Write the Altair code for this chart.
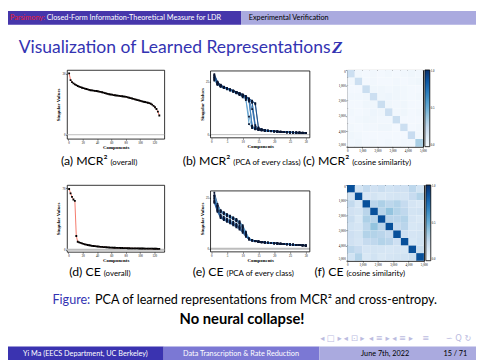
import altair as alt
import pandas as pd

# ---------------- slide text ----------------
HEADER_TEXT = ["Parsimony:", "Closed-Form Information-Theoretical Measure for LDR", "Experimental Verification"]
TITLE_TEXT = ["Visualization of Learned Representations", "Z"]
CAPTION_MAIN = ["(a) MCR²", "(b) MCR²", "(c) MCR²", "(d) CE", "(e) CE", "(f) CE"]
CAPTION_NOTE = ["(overall)", "(PCA of every class)", "(cosine similarity)",
                "(overall)", "(PCA of every class)", "(cosine similarity)"]
FIGURE_CAPTION = ["Figure:", "PCA of learned representations from MCR² and cross-entropy."]
TAKEAWAY = ["No neural collapse!"]
NAV_TEXT = ["◂ □ ▸", "◂ ⊡ ▸", "◂ ≡ ▸", "◂ ≡ ▸", "≡", "∽ Q ↻"]
FOOTER_TEXT = ["Yi Ma  (EECS Department, UC Berkeley)", "Data Transcription & Rate Reduction",
               "June 7th, 2022", "15 / 71"]
AXIS_TITLES = ["Components", "Singular Values"]

# ---------------- data ----------------
COMP_OVERALL = list(range(1, 128, 2))
MCR_OVERALL = [30.3, 27.0, 26.0, 25.4, 24.9, 24.5, 24.1, 23.8, 23.5, 23.2, 23.0, 22.8, 22.6, 22.4, 22.2, 22.0,
               21.9, 21.8, 21.7, 21.6, 21.5, 21.3, 21.2, 21.0, 20.8, 20.6, 20.4, 20.2, 20.0, 19.9, 19.8, 19.6,
               19.5, 19.4, 19.3, 19.2, 19.1, 19.0, 18.9, 18.8, 18.7, 18.5, 18.3, 18.1, 17.9, 17.7, 17.5, 17.3,
               17.1, 16.9, 16.7, 16.5, 16.3, 16.2, 16.0, 15.8, 15.6, 15.3, 14.9, 14.3, 13.6, 12.7, 11.4, 9.5]
CE_OVERALL = [69.0, 64.0, 60.0, 57.0, 55.5, 15.5, 9.0, 8.3, 7.7, 7.1, 6.6, 6.1, 5.7, 5.3, 5.0, 4.7,
              4.4, 4.2, 4.0, 3.8, 3.6, 3.4, 3.25, 3.1, 2.95, 2.8, 2.7, 2.6, 2.5, 2.4, 2.3, 2.2,
              2.15, 2.1, 2.0, 1.95, 1.9, 1.85, 1.8, 1.75, 1.7, 1.65, 1.6, 1.55, 1.5, 1.48, 1.45, 1.42,
              1.4, 1.37, 1.34, 1.31, 1.28, 1.25, 1.22, 1.2, 1.17, 1.14, 1.11, 1.08, 1.05, 1.02, 0.98, 0.94]

COMP_CLASS = list(range(1, 31))
MCR_CLASS = [
    [28.5, 25.0, 23.5, 22.6, 22.0, 21.4, 20.8, 20.2, 19.6, 19.0, 18.2, 17.0, 4.0, 2.8, 2.4, 2.1, 1.9, 1.7, 1.6, 1.5, 1.4, 1.3, 1.2, 1.1, 1.05, 1.0, 0.95, 0.9, 0.85, 0.8],
    [27.0, 24.2, 23.0, 22.3, 21.7, 21.1, 20.5, 19.9, 19.2, 18.4, 17.4, 16.2, 15.0, 3.6, 2.7, 2.3, 2.0, 1.8, 1.7, 1.55, 1.45, 1.35, 1.25, 1.15, 1.1, 1.0, 0.95, 0.9, 0.85, 0.8],
    [26.2, 23.8, 22.8, 22.1, 21.6, 21.0, 20.4, 19.7, 18.9, 17.9, 16.8, 5.0, 3.2, 2.6, 2.3, 2.0, 1.8, 1.7, 1.6, 1.5, 1.4, 1.3, 1.2, 1.1, 1.0, 0.95, 0.9, 0.85, 0.8, 0.75],
    [27.8, 24.6, 23.2, 22.4, 21.8, 21.2, 20.7, 20.1, 19.5, 18.8, 18.0, 17.1, 16.0, 14.2, 3.0, 2.5, 2.2, 1.9, 1.75, 1.6, 1.5, 1.4, 1.3, 1.2, 1.1, 1.05, 1.0, 0.95, 0.9, 0.85],
    [25.8, 23.6, 22.6, 22.0, 21.5, 20.9, 20.3, 19.8, 19.1, 18.3, 17.5, 16.5, 4.2, 2.9, 2.4, 2.1, 1.9, 1.75, 1.6, 1.5, 1.4, 1.3, 1.2, 1.1, 1.05, 1.0, 0.95, 0.9, 0.85, 0.8],
    [28.0, 24.8, 23.4, 22.5, 21.9, 21.3, 20.6, 19.9, 19.3, 18.6, 17.7, 16.6, 15.3, 4.5, 2.8, 2.4, 2.1, 1.9, 1.7, 1.6, 1.5, 1.4, 1.3, 1.2, 1.1, 1.0, 0.95, 0.9, 0.85, 0.8],
    [26.6, 24.0, 22.9, 22.2, 21.6, 21.0, 20.4, 19.8, 19.0, 18.1, 17.0, 15.6, 3.8, 2.7, 2.3, 2.05, 1.85, 1.7, 1.6, 1.5, 1.4, 1.3, 1.2, 1.1, 1.05, 1.0, 0.95, 0.9, 0.85, 0.8],
    [27.4, 24.4, 23.1, 22.3, 21.7, 21.1, 20.6, 20.0, 19.4, 18.7, 17.9, 16.9, 15.8, 14.8, 3.4, 2.6, 2.2, 1.95, 1.8, 1.65, 1.5, 1.4, 1.3, 1.2, 1.1, 1.05, 1.0, 0.95, 0.9, 0.85],
    [25.5, 23.4, 22.5, 21.9, 21.3, 20.7, 20.1, 19.4, 18.6, 17.6, 16.3, 8.5, 3.1, 2.5, 2.2, 2.0, 1.8, 1.65, 1.55, 1.45, 1.35, 1.25, 1.15, 1.1, 1.0, 0.95, 0.9, 0.85, 0.8, 0.75],
    [26.9, 24.1, 22.9, 22.2, 21.6, 21.0, 20.5, 19.9, 19.2, 18.5, 17.6, 16.4, 12.0, 3.3, 2.6, 2.2, 1.95, 1.8, 1.65, 1.55, 1.45, 1.35, 1.25, 1.15, 1.1, 1.0, 0.95, 0.9, 0.85, 0.8],
]
CE_CLASS = [
    [27.4, 22.0, 18.6, 17.6, 16.8, 16.0, 15.2, 14.3, 13.0, 11.0, 8.0, 5.0, 4.3, 3.9, 3.6, 3.4, 3.2, 3.0, 2.9, 2.8, 2.6, 2.5, 2.4, 2.3, 2.1, 2.0, 1.9, 1.8, 1.7, 1.6],
    [24.5, 19.8, 16.6, 15.6, 14.8, 14.0, 13.1, 12.2, 11.2, 9.6, 7.0, 4.8, 4.2, 3.8, 3.5, 3.3, 3.1, 3.0, 2.85, 2.7, 2.6, 2.5, 2.35, 2.25, 2.1, 2.0, 1.9, 1.8, 1.7, 1.6],
    [25.6, 20.8, 18.2, 17.2, 16.4, 15.5, 14.6, 13.6, 12.4, 10.4, 7.4, 4.9, 4.2, 3.8, 3.6, 3.35, 3.15, 3.0, 2.85, 2.75, 2.6, 2.5, 2.4, 2.25, 2.15, 2.0, 1.9, 1.8, 1.7, 1.6],
    [23.0, 18.6, 15.4, 14.4, 13.6, 12.8, 11.9, 11.0, 10.0, 8.4, 6.2, 4.6, 4.0, 3.7, 3.4, 3.2, 3.05, 2.9, 2.8, 2.65, 2.55, 2.45, 2.3, 2.2, 2.1, 1.95, 1.85, 1.75, 1.65, 1.55],
    [26.2, 21.2, 18.9, 17.9, 17.0, 16.2, 15.4, 14.6, 13.5, 11.6, 8.4, 5.2, 4.4, 3.9, 3.6, 3.4, 3.2, 3.05, 2.9, 2.8, 2.65, 2.5, 2.4, 2.3, 2.15, 2.05, 1.95, 1.85, 1.75, 1.65],
    [22.4, 18.0, 15.0, 14.0, 13.2, 12.4, 11.5, 10.5, 9.4, 7.8, 5.8, 4.5, 4.0, 3.6, 3.4, 3.2, 3.0, 2.9, 2.75, 2.65, 2.5, 2.4, 2.3, 2.2, 2.05, 1.95, 1.85, 1.75, 1.65, 1.55],
    [24.9, 20.4, 17.8, 16.8, 16.0, 15.2, 14.4, 13.4, 12.2, 10.2, 7.2, 4.8, 4.2, 3.8, 3.5, 3.3, 3.1, 2.95, 2.85, 2.7, 2.6, 2.45, 2.35, 2.25, 2.1, 2.0, 1.9, 1.8, 1.7, 1.6],
    [23.8, 19.2, 16.0, 15.0, 14.2, 13.4, 12.5, 11.6, 10.6, 9.0, 6.6, 4.7, 4.1, 3.7, 3.5, 3.3, 3.1, 2.95, 2.8, 2.7, 2.55, 2.45, 2.35, 2.2, 2.1, 2.0, 1.9, 1.8, 1.7, 1.6],
    [25.9, 21.0, 18.4, 17.4, 16.6, 15.8, 14.9, 14.0, 12.8, 10.8, 7.6, 5.0, 4.3, 3.9, 3.6, 3.4, 3.2, 3.0, 2.9, 2.75, 2.6, 2.5, 2.4, 2.3, 2.15, 2.05, 1.95, 1.85, 1.75, 1.65],
    [23.2, 18.8, 15.7, 14.7, 13.9, 13.1, 12.2, 11.3, 10.3, 8.7, 6.4, 4.6, 4.0, 3.7, 3.4, 3.2, 3.05, 2.9, 2.8, 2.65, 2.55, 2.4, 2.3, 2.2, 2.1, 1.95, 1.85, 1.75, 1.65, 1.55],
]
HEAT_MCR = [
    [0.22, 0.03, 0.02, 0.03, 0.02, 0.03, 0.02, 0.03, 0.04, 0.03],
    [0.03, 0.22, 0.02, 0.03, 0.02, 0.02, 0.03, 0.02, 0.03, 0.04],
    [0.02, 0.02, 0.23, 0.04, 0.04, 0.03, 0.04, 0.03, 0.02, 0.02],
    [0.03, 0.03, 0.04, 0.22, 0.04, 0.05, 0.04, 0.03, 0.02, 0.03],
    [0.02, 0.02, 0.04, 0.04, 0.23, 0.04, 0.03, 0.04, 0.02, 0.02],
    [0.03, 0.02, 0.03, 0.05, 0.04, 0.22, 0.03, 0.04, 0.02, 0.03],
    [0.02, 0.03, 0.04, 0.04, 0.03, 0.03, 0.23, 0.02, 0.02, 0.02],
    [0.03, 0.02, 0.03, 0.03, 0.04, 0.04, 0.02, 0.22, 0.02, 0.03],
    [0.04, 0.03, 0.02, 0.02, 0.02, 0.02, 0.02, 0.02, 0.24, 0.03],
    [0.03, 0.04, 0.02, 0.03, 0.02, 0.03, 0.02, 0.03, 0.03, 0.34],
]
HEAT_CE = [
    [0.88, 0.18, 0.26, 0.20, 0.23, 0.19, 0.21, 0.20, 0.28, 0.19],
    [0.18, 0.88, 0.16, 0.18, 0.15, 0.17, 0.18, 0.17, 0.24, 0.31],
    [0.26, 0.16, 0.88, 0.29, 0.33, 0.28, 0.31, 0.25, 0.17, 0.15],
    [0.20, 0.18, 0.29, 0.88, 0.30, 0.40, 0.31, 0.27, 0.18, 0.19],
    [0.23, 0.15, 0.33, 0.30, 0.88, 0.29, 0.29, 0.31, 0.17, 0.15],
    [0.19, 0.17, 0.28, 0.40, 0.29, 0.88, 0.25, 0.29, 0.16, 0.17],
    [0.21, 0.18, 0.31, 0.31, 0.29, 0.25, 0.88, 0.21, 0.17, 0.18],
    [0.20, 0.17, 0.25, 0.27, 0.31, 0.29, 0.21, 0.88, 0.16, 0.19],
    [0.28, 0.24, 0.17, 0.18, 0.17, 0.16, 0.17, 0.16, 0.88, 0.23],
    [0.19, 0.31, 0.15, 0.19, 0.15, 0.17, 0.18, 0.19, 0.23, 0.88],
]
SAMPLES_PER_CLASS = 500

# ---------------- style ----------------
SANS = "Lato"
SERIF = "Liberation Serif"
DARK = "#3a33b0"
HEAD_DARK = "#4636ab"
MID = "#7b78d4"
LIGHT = "#aaaadf"
BLUE_TEXT = "#3333b2"
HEAD_RED = "#e8203a"
NAV_GREY = "#bcbcdf"
LINE_RED = "#f26b5b"
CLASS_BLUES = ["#08306b", "#2171b5", "#4292c6", "#0b3f7a", "#6baed6",
               "#1c5a9c", "#3b7dbd", "#124a8a", "#5a9bd0", "#2a65a8"]
BLUES = ["#f7fbff", "#deebf7", "#c6dbef", "#9ecae1", "#6baed6", "#4292c6", "#2171b5", "#08519c", "#08306b"]

W, H = 476, 355
SX, SY = W / 484.0, H / 363.0


def X(v):
    return v * SX


def Y(v, off=0.0):
    return v * SY - off


ONE = pd.DataFrame({"k": [0]})


def band(x0, x1, y0, y1, color):
    return alt.Chart(ONE).mark_rect(color=color).encode(
        x=alt.value(x0), x2=alt.value(x1), y=alt.value(y0), y2=alt.value(y1))


def label(s, x, y, size, color="black", align="left", weight="normal", style="normal",
          font=SANS, baseline="alphabetic"):
    return alt.Chart(pd.DataFrame({"t": [s]})).mark_text(
        align=align, baseline=baseline, fontSize=size, color=color, fontWeight=weight,
        fontStyle=style, font=font).encode(text="t:N", x=alt.value(x), y=alt.value(y))


def blank():
    return alt.Chart(ONE).mark_rect(opacity=0).encode(
        x=alt.value(0), x2=alt.value(1), y=alt.value(0), y2=alt.value(1))


def spacer(w, h):
    return blank().properties(width=w, height=h)


FRAME = alt.ViewBackground(stroke="black", strokeWidth=0.8, fill="white")


def axis(vals, title, orient, flush=False):
    return alt.Axis(values=vals, title=title, orient=orient, grid=False, domain=False,
                    labelFontSize=3.2, labelFont=SERIF, labelColor="black", labelPadding=0.5,
                    tickSize=1.5, tickColor="black", tickWidth=0.5,
                    titleFontSize=5, titleFont=SERIF, titleFontWeight="bold",
                    titleColor="black", titlePadding=1, labelFlush=flush)


def overall_plot(vals, ydom, yticks, w, h, zero_w):
    df = pd.DataFrame({"c": COMP_OVERALL, "v": vals})
    xs = alt.Scale(domain=[-2, 134], nice=False, zero=False)
    ys = alt.Scale(domain=ydom, nice=False, zero=False)
    base = alt.Chart(df).encode(
        x=alt.X("c:Q", scale=xs, axis=axis([0, 20, 40, 60, 80, 100, 120], AXIS_TITLES[0], "bottom")),
        y=alt.Y("v:Q", scale=ys, axis=axis(yticks, AXIS_TITLES[1], "left")))
    zero = alt.Chart(pd.DataFrame({"v": [0]})).mark_rule(
        color="#bdbdbd", strokeWidth=zero_w).encode(y=alt.Y("v:Q", scale=ys))
    line = base.mark_line(color=LINE_RED, strokeWidth=0.9, clip=True)
    pts = base.mark_square(size=3.5, color="black", opacity=1, clip=True)
    return alt.layer(zero, line, pts).properties(width=w, height=h, view=FRAME)


def class_plot(series, ydom, w, h, zero_w, top_gap=0):
    rows = []
    for k, vals in enumerate(series):
        for c, v in zip(COMP_CLASS, vals):
            rows.append({"cls": k, "c": c, "v": v})
    df = pd.DataFrame(rows)
    xs = alt.Scale(domain=[-0.2, 31.3], nice=False, zero=False)
    # the domain reaches a little higher so that the framed box starts top_gap pixels lower
    ytop = ydom[1] + (ydom[1] - ydom[0]) * top_gap / (h - top_gap)
    ys = alt.Scale(domain=[ydom[0], ytop], nice=False, zero=False)
    base = alt.Chart(df).encode(
        x=alt.X("c:Q", scale=xs, axis=axis([0, 5, 10, 15, 20, 25, 30], AXIS_TITLES[0], "bottom")),
        y=alt.Y("v:Q", scale=ys, axis=axis([0, 5, 10, 15, 20, 25], AXIS_TITLES[1], "left")))
    zero = alt.Chart(pd.DataFrame({"v": [0]})).mark_rule(
        color="#bdbdbd", strokeWidth=zero_w).encode(y=alt.Y("v:Q", scale=ys))
    line = base.mark_line(strokeWidth=0.8, clip=True).encode(
        color=alt.Color("cls:N", scale=alt.Scale(range=CLASS_BLUES), legend=None),
        detail="cls:N")
    pts = base.mark_square(size=3.2, color="#0a1530", opacity=1, clip=True).encode(detail="cls:N")
    box = alt.Chart(ONE).mark_rect(fill=None, stroke="black", strokeWidth=0.8).encode(
        x=alt.value(0), x2=alt.value(w), y=alt.value(top_gap), y2=alt.value(h))
    return alt.layer(zero, line, pts, box).properties(width=w, height=h)


def heat_plot(M, w, h):
    rows = []
    n = len(M)
    for i in range(n):
        for j in range(n):
            rows.append({"x": j * SAMPLES_PER_CLASS, "x2": (j + 1) * SAMPLES_PER_CLASS,
                         "y": i * SAMPLES_PER_CLASS, "y2": (i + 1) * SAMPLES_PER_CLASS,
                         "v": M[i][j]})
    df = pd.DataFrame(rows)
    total = n * SAMPLES_PER_CLASS
    ticks = [0, 1000, 2000, 3000, 4000, 5000]
    stops = [i / 8 for i in range(9)]
    return alt.Chart(df).mark_rect().encode(
        x=alt.X("x:Q", scale=alt.Scale(domain=[0, total], nice=False), axis=axis(ticks, None, "bottom")),
        x2="x2:Q",
        y=alt.Y("y:Q", scale=alt.Scale(domain=[0, total], nice=False, reverse=True),
                axis=axis(ticks, None, "left", flush=True)),
        y2="y2:Q",
        color=alt.Color("v:Q", scale=alt.Scale(domain=stops, range=BLUES),
                        legend=alt.Legend(title=None, orient="right", offset=2, padding=0,
                                          gradientLength=h, gradientThickness=5,
                                          gradientStrokeColor="black", gradientStrokeWidth=0.8,
                                          labelFontSize=3, labelFont=SERIF, labelColor="black",
                                          values=[0, 0.5, 1], format=".1f", labelOffset=1)),
    ).properties(width=w, height=h, view=alt.ViewBackground(stroke="black", strokeWidth=1))


# ---------------- layout: a 2 x 6 grid of plot cells ----------------
PLOT_TOP = 60          # chart y of the first plot row
ROW2_TOP = 177         # chart y of the second plot row
R1 = ROW2_TOP - PLOT_TOP
R2 = H - ROW2_TOP
CAP_FS, NOTE_FS = 12.5, 8
NAV_X = [334, 358, 384, 408, 432, 466]

# first column, row 1: slide header, frame title and the first caption row
# (drawn from this cell; text above the plot row lies at negative y)
lead1 = alt.layer(
    blank(),
    band(0, X(241), -PLOT_TOP, -PLOT_TOP + 14, HEAD_DARK),
    band(X(241), W, -PLOT_TOP, -PLOT_TOP + 14, LIGHT),
    label(HEADER_TEXT[0], X(2), 9.6 - PLOT_TOP, 7.4, HEAD_RED),
    label(HEADER_TEXT[1], X(40), 9.6 - PLOT_TOP, 7.4, "white"),
    label(HEADER_TEXT[2], X(249), 9.6 - PLOT_TOP, 7.4, "black"),
    label(TITLE_TEXT[0], X(11), Y(44, PLOT_TOP), 17.8, BLUE_TEXT),
    label(TITLE_TEXT[1], X(335), Y(44, PLOT_TOP), 17.8, BLUE_TEXT, weight="bold", style="italic", font=SERIF),
    label(CAPTION_MAIN[0], X(103), Y(160, PLOT_TOP), CAP_FS, align="right"),
    label(CAPTION_NOTE[0], X(106), Y(160, PLOT_TOP), NOTE_FS),
    label(CAPTION_MAIN[1], X(230), Y(160, PLOT_TOP), CAP_FS, align="right"),
    label(CAPTION_NOTE[1], X(233), Y(160, PLOT_TOP), NOTE_FS),
    label(CAPTION_MAIN[2], X(353), Y(160, PLOT_TOP), CAP_FS, align="right"),
    label(CAPTION_NOTE[2], X(356), Y(160, PLOT_TOP), NOTE_FS),
).properties(width=60, height=R1)

# first column, row 2: second caption row, figure caption, takeaway, navigation and footer
nav_layers = [label(s, X(x), Y(340, ROW2_TOP), 8.5, NAV_GREY, align="center", baseline="middle",
                    font="DejaVu Sans") for s, x in zip(NAV_TEXT, NAV_X)]
lead2 = alt.layer(
    blank(),
    label(CAPTION_MAIN[3], X(96), Y(276, ROW2_TOP), CAP_FS, align="right"),
    label(CAPTION_NOTE[3], X(99), Y(276, ROW2_TOP), NOTE_FS),
    label(CAPTION_MAIN[4], X(223), Y(276, ROW2_TOP), CAP_FS, align="right"),
    label(CAPTION_NOTE[4], X(226), Y(276, ROW2_TOP), NOTE_FS),
    label(CAPTION_MAIN[5], X(347), Y(276, ROW2_TOP), CAP_FS, align="right"),
    label(CAPTION_NOTE[5], X(350), Y(276, ROW2_TOP), NOTE_FS),
    label(FIGURE_CAPTION[0], X(46), Y(305, ROW2_TOP), 12.8, BLUE_TEXT),
    label(FIGURE_CAPTION[1], X(90), Y(305, ROW2_TOP), 12.8),
    label(TAKEAWAY[0], X(242), Y(326, ROW2_TOP), 15, align="center", weight="bold"),
    *nav_layers,
    band(0, X(161), Y(349, ROW2_TOP), R2, DARK),
    band(X(161), X(322), Y(349, ROW2_TOP), R2, MID),
    band(X(322), W, Y(349, ROW2_TOP), R2, LIGHT),
    label(FOOTER_TEXT[0], X(80), Y(356.5, ROW2_TOP), 7.4, "white", align="center", baseline="middle"),
    label(FOOTER_TEXT[1], X(241), Y(356.5, ROW2_TOP), 7.4, "white", align="center", baseline="middle"),
    label(FOOTER_TEXT[2], X(390), Y(356.5, ROW2_TOP), 7.4, "black", align="center", baseline="middle"),
    label(FOOTER_TEXT[3], X(475), Y(356.5, ROW2_TOP), 7.4, "black", align="right", baseline="middle"),
).properties(width=60, height=R2)

cells = [
    lead1,
    overall_plot(MCR_OVERALL, [-2, 32], [0, 5, 10, 15, 20, 25, 30], 99, 70, 1.0),
    spacer(47, 1),
    class_plot(MCR_CLASS, [-1.5, 30], 101, 69, 1.0, top_gap=1),
    spacer(38, 1),
    heat_plot(HEAT_MCR, 77, 78),
    lead2,
    overall_plot(CE_OVERALL, [-2.5, 73.5], [0, 10, 20, 30, 40, 50, 60, 70], 99, 68, 2.0),
    spacer(47, 1),
    class_plot(CE_CLASS, [-1.5, 28.3], 101, 68, 2.0, top_gap=6),
    spacer(38, 1),
    heat_plot(HEAT_CE, 78, 77),
]

chart = alt.concat(*cells, columns=6, spacing=0, bounds="flush", align="each").properties(
    padding=0
).configure(background="white").configure_view(stroke=None)

chart.save("out.html", embed_options={"renderer": "svg", "actions": False})
